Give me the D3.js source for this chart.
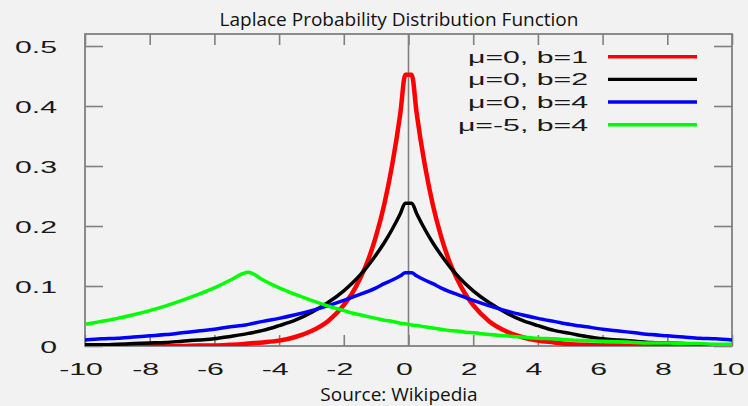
<!DOCTYPE html>
<html>
<head>
<meta charset="utf-8">
<script src="https://cdn.jsdelivr.net/npm/d3@7"></script>
<style>
  html, body { margin: 0; padding: 0; background: #f2f2f2; }
  svg { display: block; }
</style>
</head>
<body>
<svg id="chart" width="748" height="406"></svg>
<script>
// Sample positions along x shared by all four densities
const xs = [-10,-9.5,-9,-8.5,-8,-7.5,-7,-6.5,-6,-5.5,-5.15,-4.95,-4.5,-4,-3.5,-3,-2.5,-2,
  -1.75,-1.5,-1.25,-1,-0.75,-0.5,-0.25,-0.1,0.1,0.25,0.5,0.75,1,1.25,1.5,1.75,2,2.5,3,3.5,
  4,4.5,5,5.5,6,6.5,7,7.5,8,8.5,9,9.5,10];

// Density values at each sample position
const mu0b1 = [0.000,0.000,0.000,0.000,0.000,0.000,0.000,0.001,0.001,0.002,0.003,0.004,0.006,0.009,0.015,0.025,0.041,0.068,
  0.087,0.112,0.143,0.184,0.236,0.303,0.389,0.452,0.452,0.389,0.303,0.236,0.184,0.143,0.112,0.087,0.068,0.041,0.025,0.015,
  0.009,0.006,0.003,0.002,0.001,0.001,0.000,0.000,0.000,0.000,0.000,0.000,0.000];
const mu0b2 = [0.002,0.002,0.003,0.004,0.005,0.006,0.008,0.010,0.012,0.016,0.019,0.021,0.026,0.034,0.043,0.056,0.072,0.092,
  0.104,0.118,0.134,0.152,0.172,0.195,0.221,0.238,0.238,0.221,0.195,0.172,0.152,0.134,0.118,0.104,0.092,0.072,0.056,0.043,
  0.034,0.026,0.021,0.016,0.012,0.010,0.008,0.006,0.005,0.004,0.003,0.002,0.002];
const mu0b4 = [0.010,0.012,0.013,0.015,0.017,0.019,0.022,0.025,0.028,0.032,0.034,0.036,0.041,0.046,0.052,0.059,0.067,0.076,
  0.081,0.086,0.091,0.097,0.104,0.110,0.117,0.122,0.122,0.117,0.110,0.104,0.097,0.091,0.086,0.081,0.076,0.067,0.059,0.052,
  0.046,0.041,0.036,0.032,0.028,0.025,0.022,0.019,0.017,0.015,0.013,0.012,0.010];
const muM5b4 = [0.036,0.041,0.046,0.052,0.059,0.067,0.076,0.086,0.097,0.110,0.120,0.123,0.110,0.097,0.086,0.076,0.067,0.059,
  0.055,0.052,0.049,0.046,0.043,0.041,0.038,0.037,0.035,0.034,0.032,0.030,0.028,0.026,0.025,0.023,0.022,0.019,0.017,0.015,
  0.013,0.012,0.010,0.009,0.008,0.007,0.006,0.005,0.005,0.004,0.004,0.003,0.003];

const seriesNames = ["μ=0, b=1", "μ=0, b=2", "μ=0, b=4", "μ=-5, b=4"];
const seriesColors = ["#ff0000", "#000000", "#0000ff", "#00ff00"];
const xTicks = [-10,-8,-6,-4,-2,0,2,4,6,8,10];
const yTicks = [0,0.1,0.2,0.3,0.4,0.5];

const series = [mu0b1, mu0b2, mu0b4, muM5b4].map((vals, i) => ({
  name: seriesNames[i], color: seriesColors[i],
  points: xs.map((x, j) => [x, vals[j]])
}));

const svg = d3.select("#chart");
const W = 748, H = 406;
const plot = { left: 85, right: 732, top: 34, bottom: 346 };
const STRETCH = 1.78;            // wide glyphs for the axis and key text
const tickFont = "'Liberation Sans', Arial, sans-serif";

svg.append("rect").attr("width", W).attr("height", H).attr("fill", "#f2f2f2");

const x = d3.scaleLinear().domain([-10, 10]).range([plot.left, plot.right]);
const y = d3.scaleLinear().domain([0, 0.52]).range([plot.bottom, plot.top]);

// Title and source note
svg.append("text")
  .attr("x", 399).attr("y", 26)
  .attr("text-anchor", "middle")
  .attr("font-family", "'Open Sans', sans-serif")
  .attr("font-size", 19)
  .attr("fill", "#111")
  .text("Laplace Probability Distribution Function");

svg.append("text")
  .attr("x", 399).attr("y", 401)
  .attr("text-anchor", "middle")
  .attr("font-family", "'Open Sans', sans-serif")
  .attr("font-size", 19)
  .attr("fill", "#111")
  .text("Source: Wikipedia");

const axisColor = "#808080";

// Inward ticks on all four sides
const gLeft = svg.append("g").attr("transform", `translate(${plot.left},0)`)
  .call(d3.axisLeft(y).tickValues(yTicks).tickSize(-18).tickPadding(28)
    .tickFormat(d => d === 0 ? "0" : d.toFixed(1)));
const gRight = svg.append("g").attr("transform", `translate(${plot.right},0)`)
  .call(d3.axisRight(y).tickValues(yTicks).tickSize(-18).tickFormat(""));
const gBottom = svg.append("g").attr("transform", `translate(0,${plot.bottom})`)
  .call(d3.axisBottom(x).tickValues(xTicks).tickSize(-11).tickPadding(17)
    .tickFormat(d => String(d)));
const gTop = svg.append("g").attr("transform", `translate(0,${plot.top})`)
  .call(d3.axisTop(x).tickValues(xTicks).tickSize(-11).tickFormat(""));

[gLeft, gRight, gBottom, gTop].forEach(g => {
  g.select(".domain").remove();
  g.selectAll(".tick line").attr("stroke", axisColor).attr("stroke-width", 1.6);
});

gLeft.selectAll(".tick text")
  .attr("font-family", tickFont).attr("font-size", 17).attr("fill", "#1a1a1a")
  .attr("x", -28 / STRETCH).attr("dy", "0.36em")
  .attr("transform", `scale(${STRETCH},1)`);
gBottom.selectAll(".tick text")
  .attr("font-family", tickFont).attr("font-size", 17).attr("fill", "#1a1a1a")
  .attr("x", -4.5 / STRETCH)
  .attr("transform", `scale(${STRETCH},1)`);

// Zero axis at x = 0
svg.append("line")
  .attr("x1", x(0)).attr("x2", x(0))
  .attr("y1", plot.top).attr("y2", plot.bottom)
  .attr("stroke", axisColor).attr("stroke-width", 1.6);

// Plot border
svg.append("rect")
  .attr("x", plot.left).attr("y", plot.top)
  .attr("width", plot.right - plot.left).attr("height", plot.bottom - plot.top)
  .attr("fill", "none").attr("stroke", axisColor).attr("stroke-width", 1.8);

// Curves
svg.append("clipPath").attr("id", "plot-clip")
  .append("rect")
  .attr("x", plot.left).attr("y", plot.top - 2)
  .attr("width", plot.right - plot.left).attr("height", plot.bottom - plot.top + 2);

const line = d3.line()
  .x(d => x(d[0]))
  .y(d => y(d[1]))
  .curve(d3.curveMonotoneX);

svg.append("g").attr("clip-path", "url(#plot-clip)")
  .selectAll("path")
  .data(series)
  .join("path")
  .attr("d", d => line(d.points))
  .attr("fill", "none")
  .attr("stroke", d => d.color)
  .attr("stroke-width", (d, i) => i === 0 ? 4.5 : 3.5)
  .attr("stroke-linejoin", "miter");

// Key
const key = svg.append("g");
series.forEach((s, i) => {
  const ly = 56.7 + i * 22.67;
  key.append("line")
    .attr("x1", 608).attr("x2", 697)
    .attr("y1", ly).attr("y2", ly)
    .attr("stroke", s.color).attr("stroke-width", 3.4);
  key.append("text")
    .attr("x", 588 / STRETCH).attr("y", ly + 6)
    .attr("transform", `scale(${STRETCH},1)`)
    .attr("text-anchor", "end")
    .attr("font-family", tickFont).attr("font-size", 17).attr("fill", "#1a1a1a")
    .text(s.name);
});
</script>
</body>
</html>
